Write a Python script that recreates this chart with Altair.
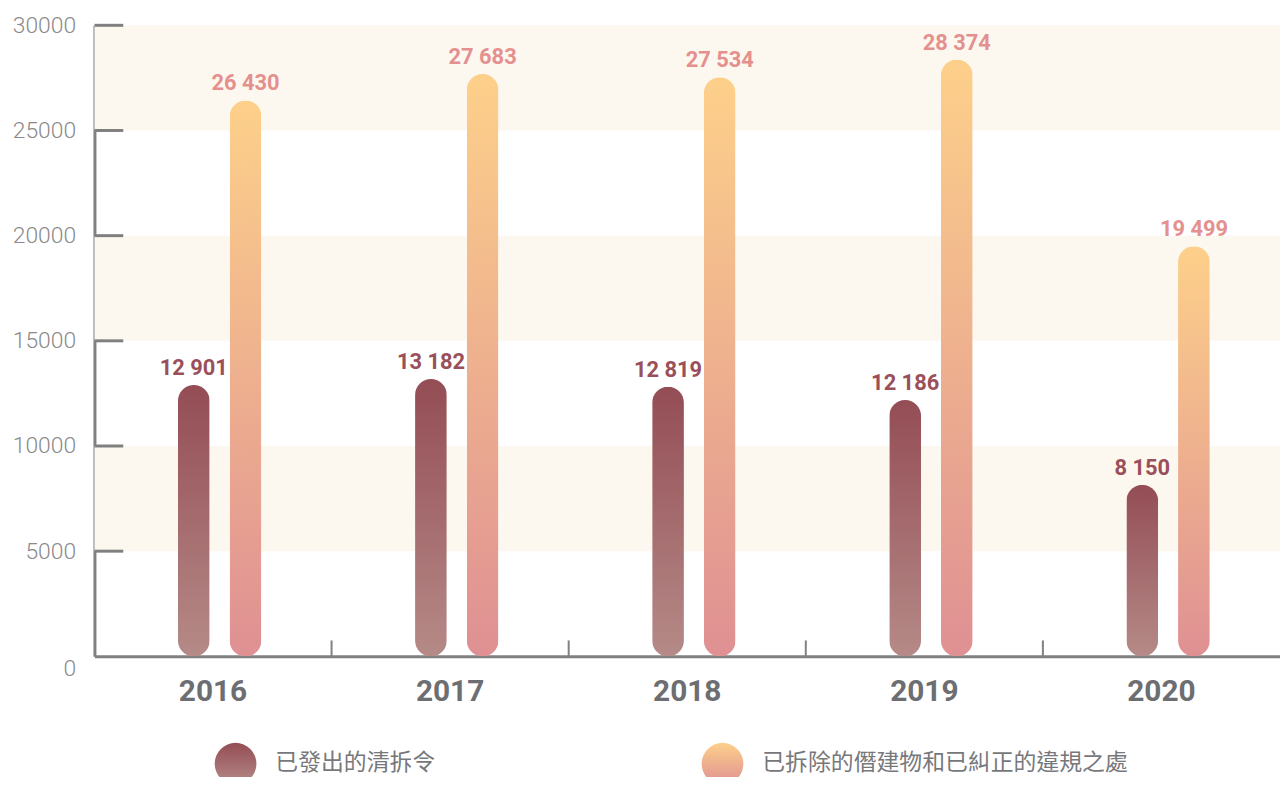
import altair as alt
import pandas as pd

years = ["2016", "2017", "2018", "2019", "2020"]
orders_issued = [12901, 13182, 12819, 12186, 8150]
removed_rectified = [26430, 27683, 27534, 28374, 19499]
series_names = ["已發出的清拆令", "已拆除的僭建物和已糾正的違規之處"]
y_ticks = [0, 5000, 10000, 15000, 20000, 25000, 30000]
stripe_low = [5000, 15000, 25000]
stripe_high = [10000, 20000, 30000]

rows = []
for i, yr in enumerate(years):
    rows.append({"year": yr, "series": series_names[0], "value": orders_issued[i]})
    rows.append({"year": yr, "series": series_names[1], "value": removed_rectified[i]})
df = pd.DataFrame(rows)

stripes = pd.DataFrame({"lo": stripe_low, "hi": stripe_high})
ticks_df = pd.DataFrame({"v": [t for t in y_ticks if t > 0]})
xticks_df = pd.DataFrame({"year": years[1:]})
legend_df = pd.DataFrame({"series": series_names})

grad_dark = {"gradient": "linear", "x1": 0, "y1": 0, "x2": 0, "y2": 1,
             "stops": [{"offset": 0, "color": "#944d55"}, {"offset": 1, "color": "#b58a87"}]}
grad_light = {"gradient": "linear", "x1": 0, "y1": 0, "x2": 0, "y2": 1,
              "stops": [{"offset": 0, "color": "#fdd08a"}, {"offset": 1, "color": "#df9093"}]}

GRAY = "#808080"
W, H = 1193, 635

x_axis = alt.Axis(title=None, labelAngle=0, ticks=False, tickSize=0, labelPadding=20,
                  labelFont="Roboto", labelFontSize=30, labelFontWeight="bold",
                  labelColor="#6d6e71", domainColor=GRAY, domainWidth=3)
x_scale = alt.Scale(paddingInner=0, paddingOuter=0)
xoff_enc = alt.XOffset("series:N", sort=series_names,
                       scale=alt.Scale(domain=series_names, paddingInner=0, paddingOuter=0,
                                       range=[74, 178]))
y_scale = alt.Scale(domain=[0, 30000], nice=False)
y_axis = alt.Axis(title=None, values=y_ticks, format="d", grid=False, ticks=False, tickSize=0,
                  labelPadding=19, labelFont="Roboto", labelFontSize=23,
                  labelFontWeight=300, labelColor="#8a8a8a",
                  labelOffset={"condition": {"test": "datum.value == 0", "value": 12}, "value": 0},
                  domainColor=GRAY, domainWidth=3)

series_fill = alt.condition(alt.datum.series == series_names[0], alt.value(grad_dark), alt.value(grad_light))

stripe_layer = alt.Chart(stripes).mark_rect(color="#fdf8ef").encode(
    x=alt.value(0), x2=alt.value("width"),
    y=alt.Y("lo:Q", scale=y_scale, axis=y_axis), y2="hi:Q")

bars = alt.Chart(df).mark_bar(cornerRadius=16, width=32).encode(
    x=alt.X("year:N", sort=years, scale=x_scale, axis=x_axis), xOffset=xoff_enc,
    y=alt.Y("value:Q", scale=y_scale, axis=y_axis), fill=series_fill)

labels = alt.Chart(df).transform_calculate(
    label="replace(format(datum.value, ','), ',', ' ')"
).mark_text(font="Roboto", fontSize=22, fontWeight="bold", dy=-10, baseline="alphabetic").encode(
    x=alt.X("year:N", sort=years, scale=x_scale, axis=x_axis), xOffset=xoff_enc,
    y=alt.Y("value:Q", scale=y_scale, axis=y_axis),
    text="label:N",
    color=alt.Color("series:N", sort=series_names,
                    scale=alt.Scale(domain=series_names, range=["#9a4f5a", "#e4908f"]),
                    legend=None))

ytick_layer = alt.Chart(ticks_df).mark_rule(color=GRAY, strokeWidth=3).encode(
    y=alt.Y("v:Q", scale=y_scale, axis=y_axis), x=alt.value(0), x2=alt.value(29))

xtick_layer = alt.Chart(xticks_df).mark_rule(color=GRAY, strokeWidth=2).encode(
    x=alt.X("year:N", sort=years, scale=x_scale, axis=x_axis, bandPosition=0),
    y=alt.value(H - 16), y2=alt.value(H))

main = alt.layer(stripe_layer, bars, labels, ytick_layer, xtick_layer)

leg_x = alt.X("series:N", sort=series_names, axis=None,
              scale=alt.Scale(type="point", domain=series_names, padding=0, range=[142, 632]))
leg_dots = alt.Chart(legend_df).mark_circle(size=1764, opacity=1).encode(
    x=leg_x, y=alt.value(H + 108), fill=series_fill)
leg_text = alt.Chart(legend_df).mark_text(
    align="left", baseline="middle", dx=40, font="Noto Sans CJK TC", fontSize=23, color="#77787b"
).encode(x=leg_x, y=alt.value(H + 107), text="series:N")
leg = alt.layer(leg_dots, leg_text)

chart = alt.layer(main, leg).resolve_scale(x="independent").properties(
    width=W, height=H,
    padding={"left": 87, "top": 15, "right": 0, "bottom": 119},
    autosize=alt.AutoSizeParams(type="none"),
).configure_view(stroke=None)

chart.save("out.html", embed_options={"renderer": "svg", "actions": False})
